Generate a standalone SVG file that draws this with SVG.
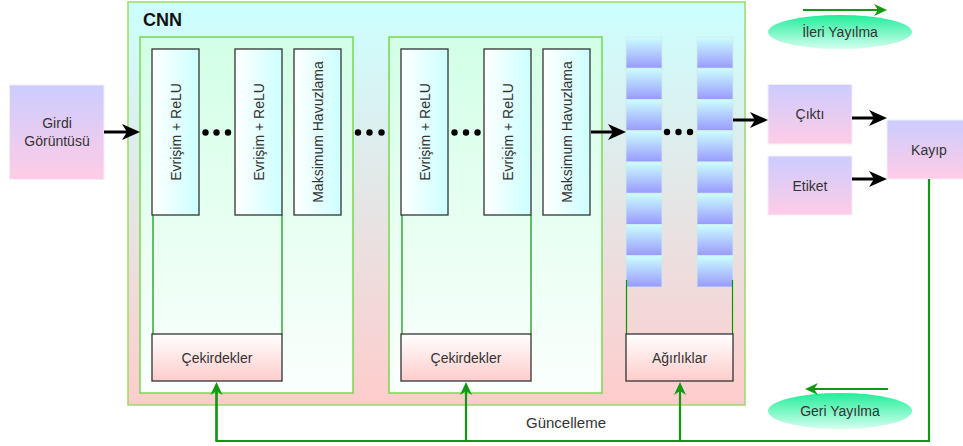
<svg xmlns="http://www.w3.org/2000/svg" width="963" height="446" viewBox="0 0 963 446">
  <style>
    text { font-family: "Liberation Sans", Arial, sans-serif; font-size: 14px; fill: #333333; }
    .mid { text-anchor: middle; dominant-baseline: central; }
    .stage { fill: url(#stageBg); stroke: #77d94a; stroke-width: 1.5; }
    .conv { fill: url(#convFill); stroke: #333333; stroke-width: 1.3; }
    .kernel { fill: url(#kernelFill); stroke: #333333; stroke-width: 1.3; }
    .cell { fill: url(#cellFill); stroke: #d2ece4; stroke-width: 0.8; }
    .io { fill: url(#ioFill); stroke: #f4eefc; stroke-width: 1; }
    .tap { stroke: #009900; stroke-width: 1.2; fill: none; }
    .flow { stroke: #000000; stroke-width: 3; fill: none; marker-end: url(#blackHead); }
    .upd { stroke: #119911; stroke-width: 2.2; fill: none; }
    .updArrow { stroke: #119911; stroke-width: 2.2; fill: none; marker-end: url(#greenHead); }
    .dot { fill: #000000; }
    .pill { fill: url(#pillFill); stroke: none; }
  </style>
  <defs>
    <linearGradient id="cnnBg" x1="0" y1="0" x2="0" y2="1">
      <stop offset="0" stop-color="#ccffff"/>
      <stop offset="1" stop-color="#ffcccc"/>
    </linearGradient>
    <linearGradient id="stageBg" x1="0" y1="0" x2="0" y2="1">
      <stop offset="0" stop-color="#d2ffe6"/>
      <stop offset="1" stop-color="#fbfffd"/>
    </linearGradient>
    <linearGradient id="convFill" x1="0" y1="0" x2="1" y2="0">
      <stop offset="0" stop-color="#ffffff"/>
      <stop offset="1" stop-color="#ccffff"/>
    </linearGradient>
    <linearGradient id="kernelFill" x1="0" y1="0" x2="0" y2="1">
      <stop offset="0" stop-color="#ffffff"/>
      <stop offset="1" stop-color="#ffcccc"/>
    </linearGradient>
    <linearGradient id="cellFill" x1="0" y1="0" x2="0" y2="1">
      <stop offset="0" stop-color="#ccffff"/>
      <stop offset="1" stop-color="#9999ff"/>
    </linearGradient>
    <linearGradient id="ioFill" x1="0" y1="0" x2="0" y2="1">
      <stop offset="0" stop-color="#ccccff"/>
      <stop offset="1" stop-color="#ffcce6"/>
    </linearGradient>
    <linearGradient id="pillFill" x1="0" y1="0" x2="0" y2="1">
      <stop offset="0" stop-color="#22ee99"/>
      <stop offset="1" stop-color="#d4fff0"/>
    </linearGradient>
    <marker id="blackHead" markerUnits="userSpaceOnUse" markerWidth="18" markerHeight="16" refX="5" refY="8" orient="auto" viewBox="0 0 18 16">
      <path d="M0,0 L18,8 L0,16 L5,8 Z" fill="#000000"/>
    </marker>
    <marker id="greenHead" markerUnits="userSpaceOnUse" markerWidth="14" markerHeight="14" refX="4" refY="7" orient="auto" viewBox="0 0 14 14">
      <path d="M0,1 L13,7 L0,13 L4,7 Z" fill="#119911"/>
    </marker>
  </defs>

  <!-- CNN container -->
  <g id="cnn">
    <rect x="128" y="2" width="617" height="403" fill="url(#cnnBg)" stroke="#99dd66" stroke-width="1.5"/>
    <text x="143" y="26" style="font-size:18px;font-weight:bold;fill:#111111">CNN</text>
  </g>

  <!-- first convolution stage -->
  <g id="stage1">
    <rect class="stage" x="140" y="37" width="213" height="356"/>
    <line class="tap" x1="153" y1="215" x2="153" y2="334"/>
    <line class="tap" x1="282" y1="215" x2="282" y2="334"/>
  </g>
  <g id="conv1a">
    <rect class="conv" x="152" y="49" width="47" height="166"/>
    <text class="mid" transform="translate(175.5 132) rotate(-90)">Evrişim + ReLU</text>
  </g>
  <g id="conv1b">
    <rect class="conv" x="235" y="49" width="47" height="166"/>
    <text class="mid" transform="translate(258.5 132) rotate(-90)">Evrişim + ReLU</text>
  </g>
  <g id="pool1">
    <rect class="conv" x="294" y="49" width="47" height="166"/>
    <text class="mid" transform="translate(317.5 132) rotate(-90)">Maksimum Havuzlama</text>
  </g>
  <g id="kernels1">
    <rect class="kernel" x="152" y="334" width="130" height="47"/>
    <text class="mid" x="217" y="357.5">Çekirdekler</text>
  </g>

  <!-- second convolution stage -->
  <g id="stage2">
    <rect class="stage" x="389" y="37" width="213" height="356"/>
    <line class="tap" x1="402" y1="215" x2="402" y2="334"/>
    <line class="tap" x1="531" y1="215" x2="531" y2="334"/>
  </g>
  <g id="conv2a">
    <rect class="conv" x="401" y="49" width="47" height="166"/>
    <text class="mid" transform="translate(424.5 132) rotate(-90)">Evrişim + ReLU</text>
  </g>
  <g id="conv2b">
    <rect class="conv" x="484" y="49" width="47" height="166"/>
    <text class="mid" transform="translate(507.5 132) rotate(-90)">Evrişim + ReLU</text>
  </g>
  <g id="pool2">
    <rect class="conv" x="543" y="49" width="47" height="166"/>
    <text class="mid" transform="translate(566.5 132) rotate(-90)">Maksimum Havuzlama</text>
  </g>
  <g id="kernels2">
    <rect class="kernel" x="401" y="334" width="130" height="47"/>
    <text class="mid" x="466" y="357.5">Çekirdekler</text>
  </g>

  <!-- fully connected layers -->
  <g id="fc1">
    <rect class="cell" x="626" y="37" width="36" height="31.25"/>
    <rect class="cell" x="626" y="68.25" width="36" height="31.25"/>
    <rect class="cell" x="626" y="99.5" width="36" height="31.25"/>
    <rect class="cell" x="626" y="130.75" width="36" height="31.25"/>
    <rect class="cell" x="626" y="162" width="36" height="31.25"/>
    <rect class="cell" x="626" y="193.25" width="36" height="31.25"/>
    <rect class="cell" x="626" y="224.5" width="36" height="31.25"/>
    <rect class="cell" x="626" y="255.75" width="36" height="31.25"/>
  </g>
  <g id="fc2">
    <rect class="cell" x="697" y="37" width="36" height="31.25"/>
    <rect class="cell" x="697" y="68.25" width="36" height="31.25"/>
    <rect class="cell" x="697" y="99.5" width="36" height="31.25"/>
    <rect class="cell" x="697" y="130.75" width="36" height="31.25"/>
    <rect class="cell" x="697" y="162" width="36" height="31.25"/>
    <rect class="cell" x="697" y="193.25" width="36" height="31.25"/>
    <rect class="cell" x="697" y="224.5" width="36" height="31.25"/>
    <rect class="cell" x="697" y="255.75" width="36" height="31.25"/>
  </g>
  <g id="weights">
    <line class="tap" x1="626.5" y1="280" x2="626.5" y2="334"/>
    <line class="tap" x1="732.5" y1="280" x2="732.5" y2="334"/>
    <rect class="kernel" x="626" y="334" width="107" height="47"/>
    <text class="mid" x="679.5" y="357.5">Ağırlıklar</text>
  </g>

  <!-- inputs / outputs -->
  <g id="input">
    <rect class="io" x="9.5" y="85" width="94.5" height="94.5"/>
    <text class="mid" x="57" y="123">Girdi</text>
    <text class="mid" x="57" y="141">Görüntüsü</text>
  </g>
  <g id="output">
    <rect class="io" x="768" y="84.5" width="84" height="59.5"/>
    <text class="mid" x="810" y="114">Çıktı</text>
  </g>
  <g id="label">
    <rect class="io" x="768" y="156" width="84" height="59"/>
    <text class="mid" x="810" y="185.5">Etiket</text>
  </g>
  <g id="loss">
    <rect class="io" x="887" y="120" width="84" height="59"/>
    <text class="mid" x="929" y="149.5">Kayıp</text>
  </g>

  <!-- legend -->
  <g id="forward">
    <ellipse class="pill" cx="840" cy="32" rx="72" ry="17"/>
    <text class="mid" x="840" y="32">İleri Yayılma</text>
  </g>
  <g id="backward">
    <ellipse class="pill" cx="840" cy="411" rx="72" ry="18"/>
    <text class="mid" x="840" y="411">Geri Yayılma</text>
  </g>

  <!-- connectors -->
  <g id="connectors">
    <line class="flow" x1="104" y1="132" x2="127" y2="132"/>
    <line class="flow" x1="591" y1="132" x2="613" y2="132"/>
    <line class="flow" x1="733" y1="120" x2="755" y2="120"/>
    <line class="flow" x1="852" y1="118" x2="874" y2="118"/>
    <line class="flow" x1="852" y1="179" x2="874" y2="179"/>

    <line class="updArrow" x1="803" y1="10" x2="878" y2="10"/>
    <line class="updArrow" x1="888" y1="389" x2="814" y2="389"/>

    <polyline class="upd" points="929,179 929,441 216.5,441 216.5,392"/>
    <line class="updArrow" x1="216.5" y1="441" x2="216.5" y2="391"/>
    <line class="updArrow" x1="466" y1="441" x2="466" y2="391"/>
    <line class="updArrow" x1="680" y1="441" x2="680" y2="391"/>
  </g>
  <text x="566" y="428" style="font-size:15px;text-anchor:middle">Güncelleme</text>

  <!-- ellipsis dots -->
  <g id="dots">
    <circle class="dot" cx="205.5" cy="132.5" r="3.2"/>
    <circle class="dot" cx="216.5" cy="132.5" r="3.2"/>
    <circle class="dot" cx="228" cy="132.5" r="3.2"/>
    <circle class="dot" cx="358" cy="132.5" r="3.2"/>
    <circle class="dot" cx="369.5" cy="132.5" r="3.2"/>
    <circle class="dot" cx="381.5" cy="132.5" r="3.2"/>
    <circle class="dot" cx="454.5" cy="132.5" r="3.2"/>
    <circle class="dot" cx="466" cy="132.5" r="3.2"/>
    <circle class="dot" cx="477.5" cy="132.5" r="3.2"/>
    <circle class="dot" cx="667" cy="132" r="3.2"/>
    <circle class="dot" cx="678.5" cy="132" r="3.2"/>
    <circle class="dot" cx="690" cy="132" r="3.2"/>
  </g>
</svg>
